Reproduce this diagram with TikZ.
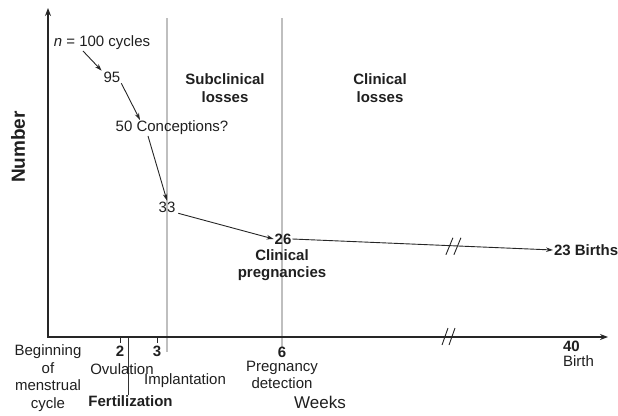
\documentclass[tikz,border=0pt]{standalone}
\usepackage{fontspec}
\setmainfont{Liberation Sans}
\usetikzlibrary{arrows.meta,calc}
\begin{document}
\begin{tikzpicture}[x=1pt,y=-1pt,
  every node/.style={inner sep=0pt,outer sep=1pt,font=\fontsize{15}{17.5}\selectfont,text=black!88},
  lbl/.style={align=center},
  blbl/.style={align=center,font=\fontsize{15}{17.5}\selectfont\bfseries},
  axisline/.style={line width=1.4pt,black!85},
  arr/.style={line width=0.9pt,black!85,-{Stealth[length=7pt,width=4.5pt]}},
  grid/.style={line width=1.3pt,black!25},
  brk/.style={line width=0.9pt,black!85},
  tick/.style={line width=0.8pt,black!85}]
\useasboundingbox (0,0) rectangle (618,415);
% grey separators
\draw[grid] (167,18) -- (167,352);
\draw[grid] (282,18) -- (282,347);
% fertilization line
\draw[line width=0.8pt,black!80] (128,337) -- (128,395);
% axes
\draw[axisline,{Stealth[length=8pt,width=6pt]}-{Stealth[length=8pt,width=6pt]}] (48,8) -- (48,337) -- (608,337);
% ticks
\draw[tick] (120,337) -- (120,343);
\draw[tick] (157,337) -- (157,343);
% axis break
\draw[brk] (442,345) -- (448,328);
\draw[brk] (449,345) -- (455,328);
% axis labels
\node[rotate=90,font=\fontsize{19}{22}\selectfont\bfseries] (ylab) at (18,147) {Number};
\node[font=\fontsize{17}{20}\selectfont] (xlab) at (320,402) {Weeks};
% tick labels
\node[blbl] (t2) at (120,351) {2};
\node[blbl] (t3) at (157,351) {3};
\node[blbl] (t6) at (282,352) {6};
\node[blbl,anchor=west] (t40) at (562,346) {40};
\node[lbl,anchor=west] (tbirth) at (562,361) {Birth};
\node[lbl] (begin) at (48,378) {Beginning\\of\\menstrual\\cycle};
\node[lbl] (ovul) at (122,369) {Ovulation};
\node[lbl] (impl) at (185,381) {Implantation};
\node[blbl] (fert) at (130.5,401) {Fertilization};
\node[lbl] (pdet) at (282,375) {Pregnancy\\detection};
% region labels
\node[blbl] (subl) at (225,88) {Subclinical\\losses};
\node[blbl] (clinl) at (380,88) {Clinical\\losses};
% counts
\node[lbl] (n100) at (102,43) {\textit{n} = 100 cycles};
\node[lbl] (n95) at (112,77) {95};
\node[lbl] (n50) at (172,128) {50 Conceptions?};
\node[lbl] (n33) at (167,207) {33};
\node[blbl] (n26) at (283,239) {26};
\node[blbl] (cp) at (282,265) {Clinical\\pregnancies};
\node[blbl,anchor=west] (births) at (553,250) {23 Births};
% connectors
\draw[arr] ([xshift=-19pt]n100.south) -- ([xshift=-1pt]n95.north west);
\draw[arr] (n95.south east) -- ([xshift=-32pt]n50.south |- n50.north);
\draw[arr] ([xshift=-24pt]n50.south) -- (n33.north);
\draw[arr] ([xshift=2pt]n33.south east) -- (n26.west);
\draw[arr] (n26.east) -- coordinate[pos=0.616] (brkpt) (births.west);
\draw[brk] ($(brkpt)+(-7,9)$) -- ($(brkpt)+(0,-8)$);
\draw[brk] ($(brkpt)+(1,9)$) -- ($(brkpt)+(8,-8)$);
\end{tikzpicture}
\end{document}
